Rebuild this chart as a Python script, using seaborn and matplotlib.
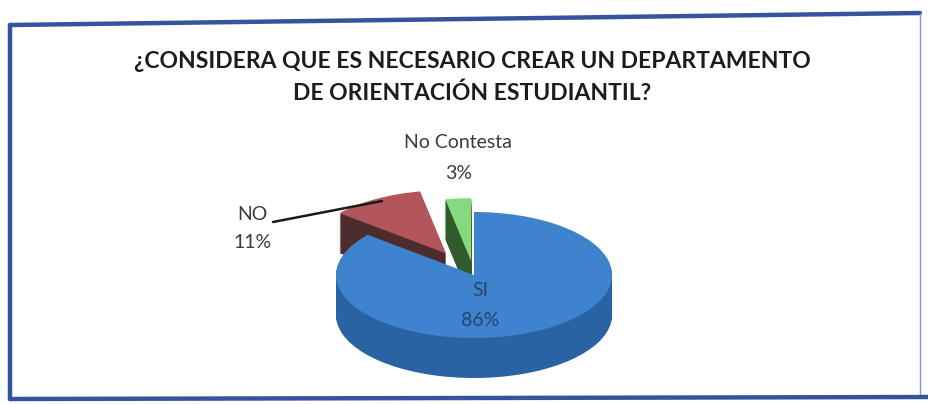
import matplotlib
matplotlib.use("Agg")
import matplotlib.pyplot as plt
import seaborn as sns
from matplotlib.lines import Line2D

# Survey answers
categories = ["SI", "NO", "No Contesta"]
percentages = [86, 11, 3]
title_lines = ["¿CONSIDERA QUE ES NECESARIO CREAR UN DEPARTAMENTO",
               "DE ORIENTACIÓN ESTUDIANTIL?"]

top_colors = ["#3d83cd", "#b2565b", "#86d97e"]
side_colors = ["#2a63a3", "#4d2c2d", "#2f5b2d"]
explode = [0.0, 0.40, 0.22]

sns.set_theme(style="white")
plt.rcParams["font.family"] = ["Lato", "DejaVu Sans"]

W, H = 929, 404
fig = plt.figure(figsize=(W / 100, H / 100), dpi=100)
fig.patch.set_facecolor("white")
ax = fig.add_axes([0, 0, 1, 1])


def fx(px):
    return px / W


def fy(py):
    return 1 - py / H


# Pie geometry (pixels): centre, horizontal / vertical radius, wall height
cx, cy = 474, 275
rx, ry = 138, 63
depth = 40

# back slices first, the big front slice last
z_base = {0: 5, 1: 1, 2: 3}

# extruded walls: stack of darker copies shifted downwards
for k in range(depth, 0, -1):
    wedges, _ = ax.pie(percentages, explode=explode, colors=side_colors,
                       startangle=90, counterclock=False,
                       center=(0, -k / ry), radius=1,
                       wedgeprops=dict(linewidth=0))
    for i, w in enumerate(wedges):
        w.set_zorder(z_base[i])

# top faces
wedges, _ = ax.pie(percentages, explode=explode, colors=top_colors,
                   startangle=90, counterclock=False,
                   center=(0, 0), radius=1,
                   wedgeprops=dict(linewidth=0))
for i, w in enumerate(wedges):
    w.set_zorder(z_base[i] + 1)

ax.set_aspect("auto")
ax.set_xlim(-cx / rx, (W - cx) / rx)
ax.set_ylim(-(H - cy) / ry, cy / ry)
ax.axis("off")

# title
fig.text(fx(472), fy(62), title_lines[0], ha="center", va="center",
         fontsize=16.5, fontweight="bold", color="#1c1c1c")
fig.text(fx(472), fy(93), title_lines[1], ha="center", va="center",
         fontsize=16.5, fontweight="bold", color="#1c1c1c")

# data labels
lab_color = "#3b3b3b"
fig.text(fx(458), fy(143), categories[2], ha="center", va="center",
         fontsize=14, color=lab_color)
fig.text(fx(459), fy(174), f"{percentages[2]}%", ha="center", va="center",
         fontsize=14, color=lab_color)
fig.text(fx(252), fy(214), categories[1], ha="center", va="center",
         fontsize=14, color=lab_color)
fig.text(fx(253), fy(243), f"{percentages[1]}%", ha="center", va="center",
         fontsize=14, color=lab_color)
fig.text(fx(480), fy(290), categories[0], ha="center", va="center",
         fontsize=14, color="#24466f", zorder=10)
fig.text(fx(480), fy(321), f"{percentages[0]}%", ha="center", va="center",
         fontsize=14, color="#24466f", zorder=10)

# leader line for the NO label
fig.add_artist(Line2D([fx(273), fx(382)], [fy(222), fy(201)],
                      color="#1a1a1a", lw=1.8))

# chart frame
fig.add_artist(Line2D([fx(10), fx(920)], [fy(25), fy(13)], color="#34549e", lw=3.2))
fig.add_artist(Line2D([fx(920), fx(920)], [fy(13), fy(397)], color="#8196c6", lw=1.0))
fig.add_artist(Line2D([fx(10), fx(929)], [fy(399), fy(397)], color="#34549e", lw=3.2))
fig.add_artist(Line2D([fx(10), fx(10)], [fy(25), fy(399)], color="#34549e", lw=3.2))

fig.savefig("out.png", dpi=100, facecolor="white")
